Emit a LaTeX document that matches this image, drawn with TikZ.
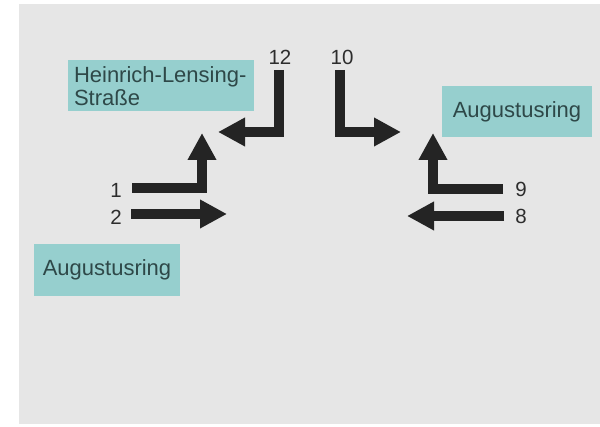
\documentclass[tikz,border=0pt]{standalone}
\usepackage{fontspec}
\setmainfont{Liberation Sans}
\usetikzlibrary{arrows.meta}
\definecolor{panel}{RGB}{230,230,230}
\definecolor{teal}{RGB}{150,207,206}
\definecolor{boxtext}{RGB}{46,72,72}
\definecolor{arrowc}{RGB}{36,36,36}
\definecolor{numc}{RGB}{45,45,45}
\tikzset{
  streetbox/.style={fill=teal, text=boxtext, inner sep=0pt, font=\fontsize{22}{23}\selectfont},
  numlabel/.style={text=numc, inner sep=0pt, font=\fontsize{20.5}{20.5}\selectfont},
  bigarrow/.style={draw=arrowc, line width=10pt, line join=miter, line cap=butt,
    -{Triangle[length=27pt,width=27pt]}}
}
\begin{document}
\begin{tikzpicture}[x=1pt,y=-1pt]
\useasboundingbox (0,0) rectangle (600,427);
\fill[white] (0,0) rectangle (600,427);
\fill[panel] (19,4) rectangle (600,424);

% street boxes
\node[streetbox, minimum width=186pt, minimum height=51pt, text width=174pt, align=left] (hls) at (161,86) {Heinrich-Lensing-\\Straße};
\node[streetbox, minimum width=146pt, minimum height=52pt] (augl) at (107,270) {Augustusring};
\node[streetbox, minimum width=150pt, minimum height=51pt] (augr) at (517,111.5) {Augustusring};

% number labels
\node[numlabel] (n1) at (116,190) {1};
\node[numlabel] (n2) at (116,217) {2};
\node[numlabel] (n12) at (280,57) {12};
\node[numlabel] (n10) at (342,57) {10};
\node[numlabel] (n9) at (521,189) {9};
\node[numlabel] (n8) at (521,216) {8};

% arrow ends
\coordinate (s1) at (132,188);  \coordinate (t1) at (202,133);
\coordinate (s2) at (131,214);  \coordinate (t2) at (227,214);
\coordinate (s12) at (279,70);  \coordinate (t12) at (218,132);
\coordinate (s10) at (340,70);  \coordinate (t10) at (401,132);
\coordinate (s9) at (503,189);  \coordinate (t9) at (433,133);
\coordinate (s8) at (504,216);  \coordinate (t8) at (407,216);

\draw[bigarrow] (s1) -| (t1);
\draw[bigarrow] (s2) -- (t2);
\draw[bigarrow] (s12) |- (t12);
\draw[bigarrow] (s10) |- (t10);
\draw[bigarrow] (s9) -| (t9);
\draw[bigarrow] (s8) -- (t8);
\end{tikzpicture}
\end{document}
